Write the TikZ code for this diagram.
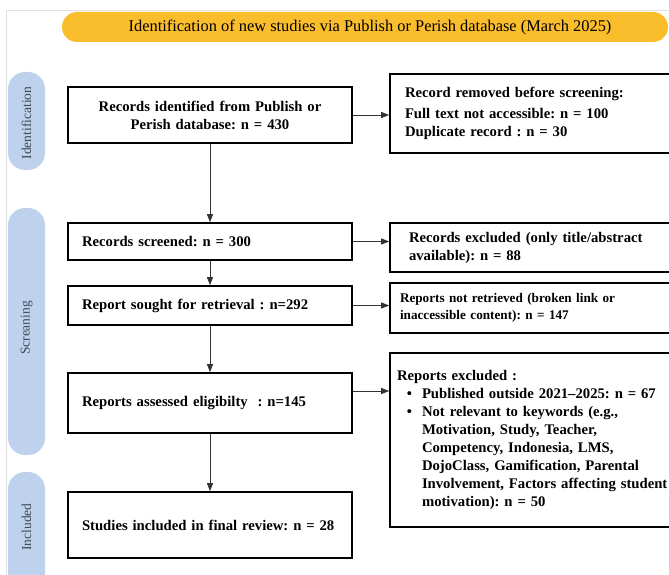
\documentclass[tikz,border=0pt]{standalone}
\usepackage{fontspec}
\setmainfont{Liberation Serif}
\usetikzlibrary{arrows.meta}
\definecolor{bannerorange}{RGB}{250,189,44}
\definecolor{pillblue}{RGB}{190,210,238}
\definecolor{pilltext}{RGB}{62,72,84}
\frenchspacing

\begin{document}
\begin{tikzpicture}[x=1pt,y=-1pt,
		box/.style={draw=black,line width=1.6pt,fill=white,inner xsep=14pt,inner ysep=0pt,
			font=\bfseries\fontsize{14.7}{18}\selectfont},
		mainbox/.style={box,minimum width=284pt,text width=256pt,align=left},
		sidebox/.style={box,minimum width=295pt,text width=262pt,align=left},
		pill/.style={fill=pillblue,rounded corners=17pt},
		pilllabel/.style={rotate=90,text=pilltext,font=\fontsize{13.5}{16}\selectfont},
		flow/.style={draw=black!80,line width=0.8pt,-{Triangle[length=8pt,width=6pt]}}]
		\useasboundingbox (0,0) rectangle (669,575);
		\draw[black!12,line width=0.6pt] (6,600) -- (6,10) -- (680,10);
		% banner
		\fill[bannerorange] (62,12) [rounded corners=15pt] rectangle (668,42);
		\node[font=\fontsize{16.4}{18}\selectfont] (banner) at (370,27) {Identification of new studies via Publish or Perish database (March 2025)};
		% phase pills
		\fill[pill] (8,72) rectangle (45,170);
		\fill[pill] (8,208) rectangle (45,455);
		\fill[pill] (8,472) rectangle (45,610);
		\node[pilllabel] (ident) at (26.5,123) {Identification};
		\node[pilllabel] (screen) at (26.5,328) {Screaning};
		\node[pilllabel] (incl) at (26.5,527) {Included};
		% main column
		\node[mainbox,align=center,minimum height=56pt] (found) at (210,115) {Records identified from Publish or\\ Perish database: n = 430};
		\node[mainbox,minimum height=37pt] (screened) at (210,241.5) {Records screened: n = 300};
		\node[mainbox,minimum height=39pt] (sought) at (210,305.5) {Report sought for retrieval : n=292};
		\node[mainbox,minimum height=60pt] (assessed) at (210,403) {Reports assessed eligibilty~~: n=145};
		\node[mainbox,minimum height=66pt] (studies) at (210,525) {Studies included in final review: n = 28};
		% side column
		\node[sidebox,inner xsep=15pt,text width=265pt,minimum height=79pt] (removed) at (537.5,113.5) {Record removed before screening:\\[3pt]
			Full text not accessible: n = 100\\ Duplicate record : n = 30};
		\node[sidebox,inner xsep=19pt,text width=257pt,minimum height=49pt] (excluded) at (537.5,247.5) {Records excluded (only title/abstract\\ available): n = 88};
		\node[sidebox,inner xsep=10pt,text width=275pt,minimum height=50pt,font=\bfseries\fontsize{13.2}{17}\selectfont] (notret) at (537.5,308) {Reports not retrieved (broken link or\\ inaccessible content): n = 147};
		\node[sidebox,inner xsep=7pt,text width=281pt,minimum height=174pt] (reports) at (537.5,440) {Reports excluded :\\
			\makebox[25pt]{\textbullet}Published outside 2021--2025: n = 67\\
			\makebox[25pt]{\textbullet}Not relevant to keywords (e.g.,\\
			\hspace*{25pt}Motivation, Study, Teacher,\\
			\hspace*{25pt}Competency, Indonesia, LMS,\\
			\hspace*{25pt}DojoClass, Gamification, Parental\\
			\hspace*{25pt}Involvement, Factors affecting student\\
			\hspace*{25pt}motivation): n = 50\\[8pt]};
		% connectors
		\draw[flow] (found) -- (screened);
		\draw[flow] (screened) -- (sought);
		\draw[flow] (sought) -- (assessed);
		\draw[flow] (assessed) -- (studies);
		\draw[flow] (found.east) -- (found.east -| removed.west);
		\draw[flow] (screened.east) -- (screened.east -| excluded.west);
		\draw[flow] (sought.east) -- (sought.east -| notret.west);
		\draw[flow] ([yshift=12pt]assessed.east) -- ([yshift=12pt]assessed.east -| reports.west);
	\end{tikzpicture}
\end{document}
